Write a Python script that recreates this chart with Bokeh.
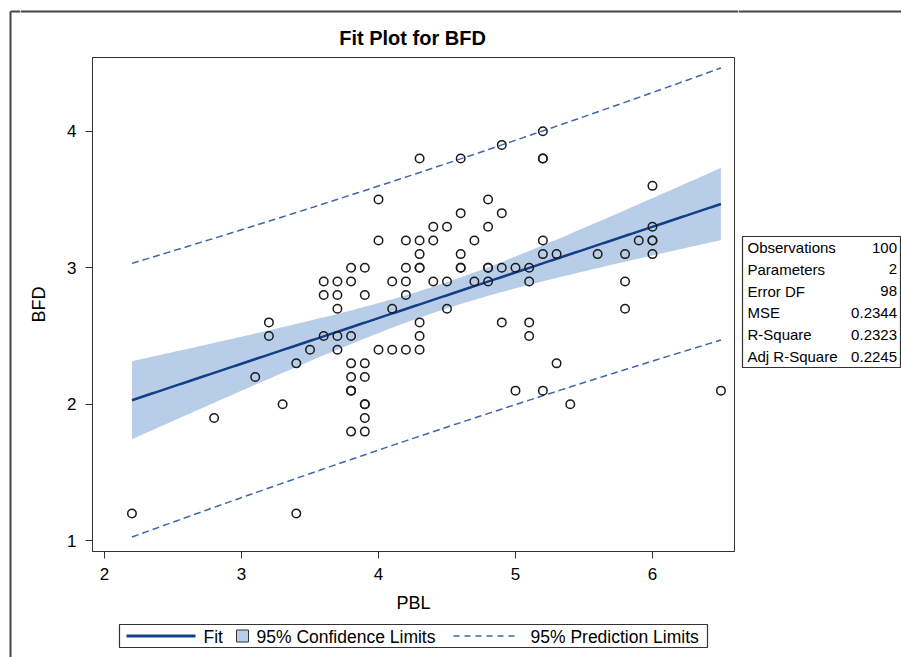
import numpy as np
from bokeh.plotting import figure
from bokeh.layouts import row, column
from bokeh.models import FixedTicker, Range1d
from bokeh.core.properties import value
from bokeh.embed import file_html
from bokeh.resources import INLINE

# ---------------- data ----------------
pbl = [4.0, 4.0, 4.2, 3.8, 3.9, 4.2, 3.6, 3.7, 3.8, 4.1,
       4.2, 3.6, 3.7, 3.9, 4.2, 3.7, 4.1, 3.2, 5.2, 4.9,
       4.3, 4.6, 5.2, 6.0, 4.8, 4.6, 4.9, 4.4, 4.5, 4.8,
       6.0, 4.3, 4.4, 4.7, 5.2, 5.9, 6.0, 4.3, 4.6, 5.2,
       5.3, 5.6, 5.8, 6.0, 4.3, 4.6, 4.8, 4.9, 5.0, 5.1,
       4.4, 4.5, 4.7, 4.8, 5.1, 5.8, 4.5, 5.8, 4.3, 4.9,
       5.1, 3.2, 3.6, 3.7, 3.8, 3.5, 3.7, 4.0, 4.1, 4.2,
       3.4, 3.8, 3.9, 3.1, 3.8, 3.9, 3.8, 3.9, 3.3, 2.8,
       3.9, 3.8, 3.9, 2.2, 3.4, 4.3, 5.1, 4.3, 5.3, 5.0,
       5.2, 5.4, 6.5, 3.9, 3.8, 6.0, 5.2, 4.3, 4.6, 4.8]
bfd = [3.5, 3.2, 3.2, 3.0, 3.0, 3.0, 2.9, 2.9, 2.9, 2.9,
       2.9, 2.8, 2.8, 2.8, 2.8, 2.7, 2.7, 2.6, 4.0, 3.9,
       3.8, 3.8, 3.8, 3.6, 3.5, 3.4, 3.4, 3.3, 3.3, 3.3,
       3.3, 3.2, 3.2, 3.2, 3.2, 3.2, 3.2, 3.1, 3.1, 3.1,
       3.1, 3.1, 3.1, 3.1, 3.0, 3.0, 3.0, 3.0, 3.0, 3.0,
       2.9, 2.9, 2.9, 2.9, 2.9, 2.9, 2.7, 2.7, 2.6, 2.6,
       2.6, 2.5, 2.5, 2.5, 2.5, 2.4, 2.4, 2.4, 2.4, 2.4,
       2.3, 2.3, 2.3, 2.2, 2.2, 2.2, 2.1, 2.0, 2.0, 1.9,
       1.9, 1.8, 1.8, 1.2, 1.2, 2.5, 2.5, 2.4, 2.3, 2.1,
       2.1, 2.0, 2.1, 2.0, 2.1, 3.2, 3.8, 3.0, 3.0, 3.0]

x_ticks = [2, 3, 4, 5, 6]
y_ticks = [1, 2, 3, 4]

stat_names = ["Observations", "Parameters", "Error DF", "MSE", "R-Square", "Adj R-Square"]
stat_values = ["100", "2", "98", "0.2344", "0.2323", "0.2245"]

title_text = "Fit Plot for BFD"
legend_labels = ["Fit", "95% Confidence Limits", "95% Prediction Limits"]

# ---------------- regression ----------------
x = np.array(pbl)
y = np.array(bfd)
n = len(x)
slope, intercept = np.polyfit(x, y, 1)
resid = y - (intercept + slope * x)
mse = np.sum(resid ** 2) / (n - 2)
xbar = x.mean()
sxx = np.sum((x - xbar) ** 2)
t_crit = 1.98447
xs = np.linspace(x.min(), x.max(), 200)
fit = intercept + slope * xs
se_m = np.sqrt(mse * (1.0 / n + (xs - xbar) ** 2 / sxx))
se_p = np.sqrt(mse * (1.0 + 1.0 / n + (xs - xbar) ** 2 / sxx))

# ---------------- styling ----------------
FONT = "Liberation Sans"
BAND = "#B8CDE8"
FITC = "#163D87"
PREDC = "#3F66AA"
DARK = "#333333"
EDGE = "#444444"

# page geometry (pixels)
STRIP_W = 20
MAIN_W = 718          # x 20 -> 738
RIGHT_W = 163         # x 738 -> 901
TITLE_H = 53          # y 0 -> 53
MAIN_H = 567          # y 53 -> 620
LEG_H = 37            # y 620 -> 657
PAGE_H = TITLE_H + MAIN_H + LEG_H


def pixel_canvas(w, h):
    f = figure(width=w, height=h, x_range=Range1d(0, w), y_range=Range1d(h, 0),
               x_axis_type=None, y_axis_type=None, output_backend="svg",
               toolbar_location=None, min_border=0, frame_align=False)
    f.grid.visible = False
    f.outline_line_color = None
    f.background_fill_color = "white"
    f.border_fill_color = "white"
    return f


# ---------------- left strip (outer border) ----------------
strip = pixel_canvas(STRIP_W, PAGE_H)
strip.segment(x0=[10, 10], y0=[11, 11], x1=[10, STRIP_W], y1=[PAGE_H, 11],
              line_color=EDGE, line_width=2)

# ---------------- title ----------------
tfig = pixel_canvas(MAIN_W, TITLE_H)
tfig.segment(x0=[0], y0=[11], x1=[MAIN_W], y1=[11], line_color=EDGE, line_width=2)
tfig.text(x=[412 - STRIP_W], y=[37.5], text=[title_text], text_font=value(FONT),
          text_font_size=value("20px"), text_font_style="bold", text_color="black",
          text_align="center", text_baseline="middle")

# ---------------- main plot ----------------
p = figure(width=MAIN_W, height=MAIN_H, output_backend="svg", toolbar_location=None,
           x_range=Range1d(1.912, 6.599), y_range=Range1d(0.922, 4.540),
           min_border_left=92 - STRIP_W, min_border_right=738 - 734,
           min_border_top=57 - TITLE_H, min_border_bottom=TITLE_H + MAIN_H - 551,
           frame_align=False)
p.background_fill_color = "white"
p.border_fill_color = "white"
p.outline_line_color = DARK
p.outline_line_width = 1
p.xgrid.visible = False
p.ygrid.visible = False

for ax in (p.xaxis, p.yaxis):
    ax.minor_tick_line_color = None
    ax.major_tick_in = 0
    ax.major_tick_out = 7
    ax.major_tick_line_color = DARK
    ax.axis_line_color = DARK
    ax.major_label_text_font = FONT
    ax.major_label_text_font_size = "17px"
    ax.major_label_text_color = "black"
    ax.axis_label_text_font = FONT
    ax.axis_label_text_font_size = "18px"
    ax.axis_label_text_font_style = "normal"
    ax.axis_label_text_color = "black"

p.xaxis.ticker = FixedTicker(ticks=x_ticks)
p.yaxis.ticker = FixedTicker(ticks=y_ticks)
p.xaxis.axis_label = "PBL"
p.yaxis.axis_label = "BFD"
p.xaxis.major_label_standoff = 9
p.xaxis.axis_label_standoff = 10
p.yaxis.major_label_standoff = 9
p.yaxis.axis_label_standoff = 15

p.varea(x=xs, y1=fit - t_crit * se_m, y2=fit + t_crit * se_m, fill_color=BAND, fill_alpha=1.0)
p.line(xs, fit + t_crit * se_p, line_color=PREDC, line_width=1.5, line_dash="7 4")
p.line(xs, fit - t_crit * se_p, line_color=PREDC, line_width=1.5, line_dash="7 4")
p.line(xs, fit, line_color=FITC, line_width=2.5)
p.scatter(x, y, marker="circle", size=8.5, fill_color=None, line_color="#1a1a1a", line_width=1.5)

# ---------------- legend strip ----------------
lg = pixel_canvas(MAIN_W, LEG_H)
OX, OY = STRIP_W, TITLE_H + MAIN_H     # image offset of this canvas
cy = 635.5 - OY
lg.quad(left=[119 - OX], right=[707 - OX], top=[624 - OY], bottom=[647 - OY],
        fill_color=None, line_color=DARK, line_width=1.2)
lg.segment(x0=[126 - OX], y0=[cy], x1=[195 - OX], y1=[cy], line_color=FITC, line_width=3)
lg.quad(left=[236 - OX], right=[248 - OX], top=[cy - 6], bottom=[cy + 6],
        fill_color=BAND, line_color=DARK, line_width=1)
lg.segment(x0=[453 - OX], y0=[cy], x1=[517 - OX], y1=[cy], line_color=PREDC,
           line_width=1.5, line_dash="6 5")
lg.text(x=[203 - OX, 256 - OX, 530 - OX], y=[cy + 0.5] * 3, text=legend_labels,
        text_font=value(FONT), text_font_size=value("17.5px"), text_color="black",
        text_align="left", text_baseline="middle")

# ---------------- right strip: statistics inset ----------------
rf = pixel_canvas(RIGHT_W, PAGE_H)
RX = 738
rf.segment(x0=[0], y0=[11], x1=[RIGHT_W], y1=[11], line_color=EDGE, line_width=2)
rf.quad(left=[742 - RX], right=[900 - RX], top=[236], bottom=[367],
        fill_color="white", line_color=DARK, line_width=1.2)
row_y = [247 + 21.8 * i for i in range(len(stat_names))]
rf.text(x=[747 - RX] * len(stat_names), y=row_y, text=stat_names,
        text_font=value(FONT), text_font_size=value("15px"), text_color="black",
        text_align="left", text_baseline="middle")
rf.text(x=[896.5 - RX] * len(stat_values), y=row_y, text=stat_values,
        text_font=value(FONT), text_font_size=value("15px"), text_color="black",
        text_align="right", text_baseline="middle")

layout = row(strip, column(tfig, p, lg, spacing=0), rf, spacing=0)
open("out.html", "w").write(file_html(layout, INLINE))
